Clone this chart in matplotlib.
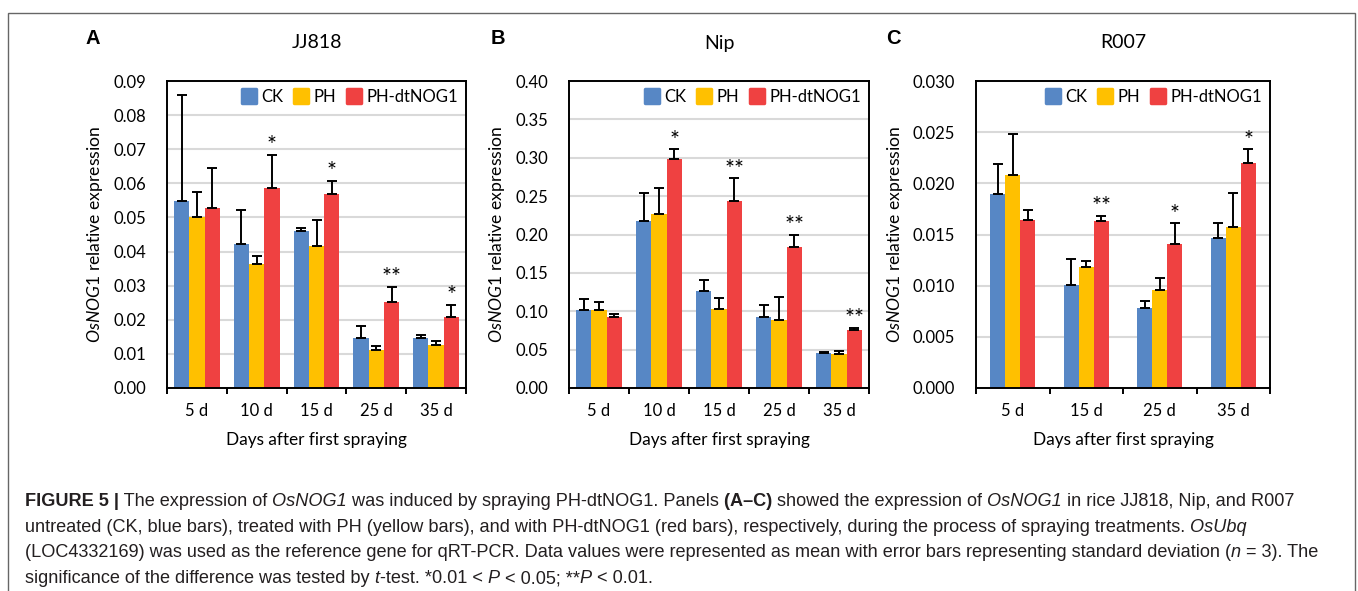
import numpy as np
import matplotlib.pyplot as plt
from matplotlib.lines import Line2D
from matplotlib.markers import MarkerStyle
from matplotlib.patches import Rectangle
from matplotlib.ticker import FormatStrFormatter

plt.rcParams["font.family"] = "Lato"
plt.rcParams["mathtext.fontset"] = "custom"
plt.rcParams["mathtext.rm"] = "Lato"
plt.rcParams["mathtext.it"] = "Lato:italic"

W, H = 1358, 591

groups = ["CK", "PH", "PH-dtNOG1"]
colors = ["#5787c5", "#ffc000", "#ef4141"]

# A - JJ818
jj_days = ["5 d", "10 d", "15 d", "25 d", "35 d"]
jj_ck = [0.0547, 0.0422, 0.0461, 0.0146, 0.0146]
jj_ck_sd = [0.0312, 0.0100, 0.0009, 0.0036, 0.0009]
jj_ph = [0.0501, 0.0363, 0.0415, 0.0111, 0.0127]
jj_ph_sd = [0.0075, 0.0025, 0.0078, 0.0013, 0.0011]
jj_dt = [0.0529, 0.0586, 0.0568, 0.0251, 0.0208]
jj_dt_sd = [0.0115, 0.0097, 0.0039, 0.0045, 0.0035]
jj_sig = ["", "*", "*", "**", "*"]

# B - Nip
nip_days = ["5 d", "10 d", "15 d", "25 d", "35 d"]
nip_ck = [0.102, 0.217, 0.127, 0.092, 0.045]
nip_ck_sd = [0.0145, 0.037, 0.0143, 0.0167, 0.002]
nip_ph = [0.101, 0.227, 0.1035, 0.0887, 0.0443]
nip_ph_sd = [0.0107, 0.0337, 0.0135, 0.0303, 0.0044]
nip_dt = [0.0926, 0.298, 0.2438, 0.184, 0.0752]
nip_dt_sd = [0.0044, 0.013, 0.0295, 0.016, 0.0035]
nip_sig = ["", "*", "**", "**", "**"]

# C - R007
r_days = ["5 d", "15 d", "25 d", "35 d"]
r_ck = [0.0190, 0.01008, 0.00777, 0.0147]
r_ck_sd = [0.0029, 0.0025, 0.0007, 0.0014]
r_ph = [0.0208, 0.0118, 0.00953, 0.01578]
r_ph_sd = [0.0040, 0.0006, 0.0012, 0.0033]
r_dt = [0.01643, 0.01633, 0.01409, 0.02203]
r_dt_sd = [0.0010, 0.0005, 0.0020, 0.0013]
r_sig = ["", "**", "*", "*"]

panels = [
    dict(letter="A", title="JJ818", days=jj_days, means=[jj_ck, jj_ph, jj_dt],
         sds=[jj_ck_sd, jj_ph_sd, jj_dt_sd], sig=jj_sig, ymax=0.09, step=0.01,
         fmt="%.2f", box=(167, 81, 466, 388), bw=0.255, ylab_x=95, let_x=93),
    dict(letter="B", title="Nip", days=nip_days, means=[nip_ck, nip_ph, nip_dt],
         sds=[nip_ck_sd, nip_ph_sd, nip_dt_sd], sig=nip_sig, ymax=0.40, step=0.05,
         fmt="%.2f", box=(569, 81, 869, 388), bw=0.255, ylab_x=497, let_x=498),
    dict(letter="C", title="R007", days=r_days, means=[r_ck, r_ph, r_dt],
         sds=[r_ck_sd, r_ph_sd, r_dt_sd], sig=r_sig, ymax=0.030, step=0.005,
         fmt="%.3f", box=(976, 81, 1270, 388), bw=0.205, ylab_x=895, let_x=893),
]

fig = plt.figure(figsize=(W / 100, H / 100), dpi=100)

for p in panels:
    l, t, r, b = p["box"]
    ax = fig.add_axes([l / W, 1 - b / H, (r - l) / W, (b - t) / H])
    n = len(p["days"])
    x = np.arange(n)
    for i in range(3):
        xi = x + (i - 1) * p["bw"]
        ax.bar(xi, p["means"][i], width=p["bw"], color=colors[i], zorder=2)
        ax.errorbar(xi, p["means"][i], yerr=[np.zeros(n), p["sds"][i]], fmt="none",
                    ecolor="black", elinewidth=1.4, capsize=3.3, capthick=1.4, zorder=3)
    for j, s in enumerate(p["sig"]):
        if s:
            top = p["means"][2][j] + p["sds"][2][j]
            ax.annotate(s, (x[j] + p["bw"], top), xytext=(0, -1), textcoords="offset points",
                        ha="center", va="bottom", fontsize=17)
    ax.set_xlim(-0.5, n - 0.5)
    ax.set_ylim(0, p["ymax"])
    ax.set_yticks(np.arange(0, p["ymax"] + p["step"] / 2, p["step"]))
    ax.yaxis.set_major_formatter(FormatStrFormatter(p["fmt"]))
    ax.set_xticks(x)
    ax.set_xticklabels(p["days"])
    ax.set_xticks(np.arange(-0.5, n, 1), minor=True)
    ax.tick_params(axis="x", which="major", length=0, pad=11, labelsize=12)
    ax.tick_params(axis="x", which="minor", length=4.5, width=1.4, direction="out")
    ax.tick_params(axis="y", length=0, pad=15, labelsize=12)
    ax.grid(axis="y", color="#d9d9d9", lw=1.5)
    ax.set_axisbelow(True)
    for sp in ax.spines.values():
        sp.set_linewidth(1.4)
        sp.set_color("black")
    ax.set_xlabel("Days after first spraying", fontsize=12.4, labelpad=9)

    handles = [Line2D([], [], ls="", marker=MarkerStyle("s", joinstyle="round"), ms=10, mew=2.5,
                      mfc=c, mec=c) for c in colors]
    ax.legend(handles, groups, ncol=3, loc="upper right", frameon=False, fontsize=12,
              handlelength=1.0, handletextpad=0.25, columnspacing=0.55,
              borderaxespad=0.1, bbox_to_anchor=(1.0, 1.0))

    fig.text(p["ylab_x"] / W, 1 - 234.5 / H, r"$\mathit{OsNOG1}$ relative expression",
             rotation=90, ha="center", va="center", fontsize=12.6)
    fig.text((l + r) / 2 / W, 1 - 43 / H, p["title"], ha="center", va="center", fontsize=14)
    fig.text(p["let_x"] / W, 1 - 38 / H, p["letter"], ha="center", va="center", fontsize=14.5,
             fontweight="bold", family="Liberation Sans")

# outer frame
fig.patches.append(Rectangle((8 / W, -0.05), 1347 / W, 1 - 13 / H + 0.05, transform=fig.transFigure,
                             fill=False, ec="#666666", lw=1))

# caption
cap_font = "Liberation Sans"
cap_fs = 13.1
lines = [
    [("FIGURE 5 |", "b"), (" The expression of", "n"), (" OsNOG1", "i"),
     (" was induced by spraying PH-dtNOG1. Panels", "n"), (" (A\u2013C)", "b"),
     (" showed the expression of", "n"), (" OsNOG1", "i"), (" in rice JJ818, Nip, and R007", "n")],
    [("untreated (CK, blue bars), treated with PH (yellow bars), and with PH-dtNOG1 (red bars), "
      "respectively, during the process of spraying treatments.", "n"), (" OsUbq", "i")],
    [("(LOC4332169) was used as the reference gene for qRT-PCR. Data values were represented as "
      "mean with error bars representing standard deviation (", "n"), ("n", "i"), (" = 3). The", "n")],
    [("significance of the difference was tested by", "n"), (" t", "i"), ("-test. *0.01 <", "n"),
     (" P", "i"), (" < 0.05; **", "n"), ("P", "i"), (" < 0.01.", "n")],
]
baselines = [506, 532, 557, 583]
renderer = fig.canvas.get_renderer()
for runs, yb in zip(lines, baselines):
    xp = 25
    for s, st in runs:
        tx = fig.text(xp / W, 1 - yb / H, s, fontsize=cap_fs, family=cap_font, color="#231f20",
                      fontweight="bold" if st == "b" else "normal",
                      fontstyle="italic" if st == "i" else "normal",
                      ha="left", va="baseline")
        xp += tx.get_window_extent(renderer).width

fig.savefig("out.png", dpi=100)
